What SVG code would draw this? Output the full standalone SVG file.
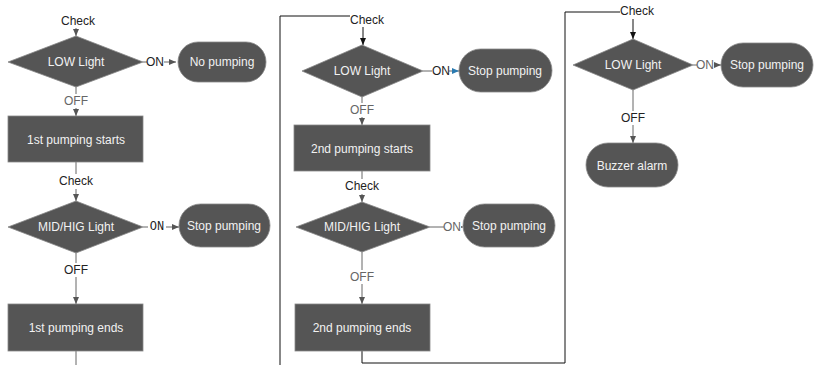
<svg xmlns="http://www.w3.org/2000/svg" width="814" height="365" viewBox="0 0 814 365">
<defs>
<marker id="ag" markerWidth="8" markerHeight="8" refX="7" refY="4" orient="auto" markerUnits="userSpaceOnUse"><path d="M0,1 L7,4 L0,7 Z" fill="#555"/></marker>
<marker id="ak" markerWidth="8" markerHeight="8" refX="7" refY="4" orient="auto" markerUnits="userSpaceOnUse"><path d="M0,1 L7,4 L0,7 Z" fill="#111"/></marker>
<marker id="ab" markerWidth="8" markerHeight="8" refX="7" refY="4" orient="auto" markerUnits="userSpaceOnUse"><path d="M0,1 L7,4 L0,7 Z" fill="#2a7ab0"/></marker>
<style>
.n{fill:#555;stroke:#888;stroke-width:0.8}
.t{font-family:"Liberation Sans",Arial,sans-serif;font-size:12px;fill:#f2f2f2;text-anchor:middle;dominant-baseline:central}
.l{font-family:"Liberation Sans",Arial,sans-serif;font-size:12px;fill:#222;text-anchor:middle;dominant-baseline:central}
.lg{fill:#666}
.m{font-family:"Liberation Mono","Courier New",monospace}
.g{stroke:#666;stroke-width:1;fill:none}
.k{stroke:#111;stroke-width:1;fill:none}
.w{fill:#fff}
</style>
</defs>
<rect width="814" height="365" fill="#fff"/>
<g id="connectors">
<!-- column 1 -->
<path class="g" d="M76,28 V36" marker-end="url(#ag)"/>
<path class="g" d="M143,62 H176" marker-end="url(#ag)"/>
<path class="g" d="M76,87 V116" marker-end="url(#ag)"/>
<path class="g" d="M76,162 V201" marker-end="url(#ag)"/>
<path class="g" d="M143,227 H179" marker-end="url(#ag)"/>
<path class="g" d="M76,253 V304" marker-end="url(#ag)"/>
<path class="g" d="M76,351 V365"/>
<!-- column 2 -->
<path class="k" d="M280,365 V16 H350"/>
<path class="k" d="M363,27 V45" marker-end="url(#ak)"/>
<path class="g" d="M423,71 H459" marker-end="url(#ab)"/>
<path class="g" d="M362,97 V125" marker-end="url(#ag)"/>
<path class="g" d="M362,171 V202" marker-end="url(#ag)"/>
<path class="g" d="M430,227 H463" marker-end="url(#ag)"/>
<path class="g" d="M362,252 V304" marker-end="url(#ag)"/>
<path class="k" d="M362,351 V363 H565 V12 H620"/>
<!-- column 3 -->
<path class="k" d="M633,18 V39" marker-end="url(#ak)"/>
<path class="g" d="M693,65 H721" marker-end="url(#ag)"/>
<path class="g" d="M633,90 V143" marker-end="url(#ag)"/>
<!-- labels -->
<rect class="w" x="57" y="13" width="40" height="15"/>
<text class="l" x="78" y="21">Check</text>
<rect class="w" x="147" y="55" width="17" height="14"/>
<text class="l" x="155" y="62">ON</text>
<rect class="w" x="63" y="94" width="27" height="14"/>
<text class="l lg" x="76" y="101">OFF</text>
<rect class="w" x="57" y="174" width="40" height="15"/>
<text class="l" x="76" y="181">Check</text>
<rect class="w" x="148" y="220" width="18" height="14"/>
<text class="l m" x="157" y="227">ON</text>
<rect class="w" x="63" y="263" width="27" height="14"/>
<text class="l" x="76" y="270">OFF</text>
<rect class="w" x="350" y="13" width="36" height="14"/>
<text class="l" x="367" y="20">Check</text>
<rect class="w" x="432" y="64" width="17" height="14"/>
<text class="l" x="441" y="71">ON</text>
<rect class="w" x="349" y="103" width="27" height="14"/>
<text class="l lg" x="362" y="110">OFF</text>
<rect class="w" x="343" y="179" width="40" height="15"/>
<text class="l" x="362" y="186">Check</text>
<rect class="w" x="444" y="220" width="17" height="14"/>
<text class="l lg" x="452" y="227">ON</text>
<rect class="w" x="349" y="270" width="27" height="14"/>
<text class="l lg" x="362" y="277">OFF</text>
<rect class="w" x="620" y="4" width="36" height="15"/>
<text class="l" x="637" y="11">Check</text>
<rect class="w" x="697" y="58" width="17" height="14"/>
<text class="l lg" x="705" y="65">ON</text>
<rect class="w" x="620" y="111" width="27" height="14"/>
<text class="l" x="633" y="118">OFF</text>
</g>
<g id="low1"><polygon class="n" points="76,36 143,62 76,87 8,62"/><text class="t" x="76" y="62">LOW Light</text></g>
<g id="nopump"><rect class="n" x="178" y="42" width="88" height="40" rx="20"/><text class="t" x="222" y="62">No pumping</text></g>
<g id="start1"><rect class="n" x="8" y="116" width="135" height="46"/><text class="t" x="76" y="140">1st pumping starts</text></g>
<g id="mid1"><polygon class="n" points="76,201 143,227 76,253 8,227"/><text class="t" x="76" y="227">MID/HIG Light</text></g>
<g id="stop1"><rect class="n" x="179" y="204" width="91" height="43" rx="21.5"/><text class="t" x="224" y="226">Stop pumping</text></g>
<g id="end1"><rect class="n" x="8" y="304" width="135" height="47"/><text class="t" x="76" y="328">1st pumping ends</text></g>
<g id="low2"><polygon class="n" points="362,45 423,71 362,97 302,71"/><text class="t" x="362" y="71">LOW Light</text></g>
<g id="stop2"><rect class="n" x="459" y="49" width="93" height="43" rx="21.5"/><text class="t" x="505" y="71">Stop pumping</text></g>
<g id="start2"><rect class="n" x="294" y="125" width="136" height="46"/><text class="t" x="362" y="149">2nd pumping starts</text></g>
<g id="mid2"><polygon class="n" points="362,202 430,227 362,252 296,227"/><text class="t" x="362" y="227">MID/HIG Light</text></g>
<g id="stop3"><rect class="n" x="463" y="204" width="92" height="43" rx="21.5"/><text class="t" x="509" y="226">Stop pumping</text></g>
<g id="end2"><rect class="n" x="295" y="304" width="135" height="47"/><text class="t" x="362" y="328">2nd pumping ends</text></g>
<g id="low3"><polygon class="n" points="633,39 693,65 633,90 573,65"/><text class="t" x="633" y="65">LOW Light</text></g>
<g id="stop4"><rect class="n" x="721" y="43" width="92" height="44" rx="22"/><text class="t" x="767" y="65">Stop pumping</text></g>
<g id="buzzer"><rect class="n" x="586" y="143" width="92" height="44" rx="22"/><text class="t" x="632" y="166">Buzzer alarm</text></g>
</svg>
